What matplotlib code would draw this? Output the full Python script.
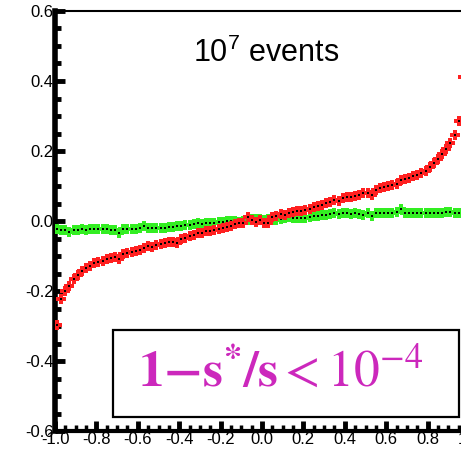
import numpy as np
import matplotlib
matplotlib.use("Agg")
import matplotlib.pyplot as plt
from matplotlib.patches import Rectangle
from matplotlib.ticker import MultipleLocator, FormatStrFormatter

# ---- data ----
x_centers = np.round(np.arange(-0.99, 1.0, 0.02), 2)

red_vals = [
    -0.297, -0.224, -0.200, -0.187, -0.166, -0.155, -0.143, -0.134, -0.128, -0.121,
    -0.118, -0.113, -0.109, -0.106, -0.104, -0.109, -0.094, -0.092, -0.089, -0.086,
    -0.083, -0.077, -0.071, -0.073, -0.069, -0.067, -0.064, -0.061, -0.060, -0.062,
    -0.052, -0.048, -0.044, -0.040, -0.035, -0.033, -0.030, -0.028, -0.026, -0.024,
    -0.020, -0.016, -0.014, -0.010, -0.007, -0.007, 0.012, 0.004, -0.004, 0.003,
    -0.006, -0.005, 0.012, 0.015, 0.019, 0.017, 0.022, 0.026, 0.028, 0.029,
    0.031, 0.035, 0.039, 0.043, 0.047, 0.051, 0.055, 0.059, 0.056, 0.066,
    0.068, 0.069, 0.071, 0.074, 0.079, 0.081, 0.075, 0.089, 0.093, 0.096,
    0.100, 0.104, 0.106, 0.117, 0.119, 0.122, 0.128, 0.131, 0.136, 0.143,
    0.154, 0.166, 0.178, 0.190, 0.207, 0.224, 0.245, 0.285, 0.410, 0.700,
]

green_vals = [
    -0.024, -0.025, -0.027, -0.032, -0.026, -0.025, -0.024, -0.025, -0.024, -0.023,
    -0.024, -0.023, -0.024, -0.025, -0.026, -0.034, -0.024, -0.023, -0.022, -0.022,
    -0.019, -0.015, -0.021, -0.021, -0.020, -0.020, -0.019, -0.018, -0.016, -0.015,
    -0.014, -0.012, -0.011, -0.009, -0.007, -0.008, -0.006, -0.005, -0.005, -0.004,
    -0.002, -0.001, 0.001, -0.001, -0.002, 0.001, 0.004, 0.007, 0.006, 0.005,
    0.004, 0.006, 0.004, 0.003, 0.005, 0.008, 0.010, 0.008, 0.009, 0.008,
    0.009, 0.012, 0.013, 0.015, 0.016, 0.017, 0.019, 0.022, 0.021, 0.022,
    0.022, 0.021, 0.022, 0.020, 0.018, 0.022, 0.015, 0.024, 0.023, 0.024,
    0.023, 0.022, 0.025, 0.033, 0.024, 0.024, 0.023, 0.024, 0.023, 0.022,
    0.023, 0.024, 0.023, 0.024, 0.026, 0.027, 0.024, 0.024, 0.023, 0.022,
]

x_ticks = [-1.0, -0.8, -0.6, -0.4, -0.2, 0.0, 0.2, 0.4, 0.6, 0.8, 1.0]
y_ticks = [-0.6, -0.4, -0.2, 0.0, 0.2, 0.4, 0.6]
title_text = r"$10^7$ events"
box_text = r"$\mathbf{1{-}s^{*}/s} < 10^{-4}$"

assert len(red_vals) == len(x_centers) == len(green_vals)

# ---- figure ----
plt.rcParams['mathtext.fontset'] = 'custom'
plt.rcParams['mathtext.rm'] = 'Liberation Sans'
plt.rcParams['mathtext.it'] = 'Liberation Sans:italic'
plt.rcParams['mathtext.bf'] = 'Liberation Sans:bold'

fig = plt.figure(figsize=(4.61, 4.5), dpi=100)
ax = fig.add_axes([55 / 461, 19 / 450, 414 / 461, 420 / 450])
ax.set_xlim(-1.0, 1.0)
ax.set_ylim(-0.6, 0.6)

green_c = '#33ee22'
red_c = '#ff2020'
ax.plot(x_centers, green_vals, linestyle='none', marker='P', ms=7.5, mew=0,
        color=green_c, zorder=3)
ax.plot(x_centers, green_vals, linestyle='none', marker='s', ms=1.7, mew=0,
        color='black', zorder=4)
ax.plot(x_centers, red_vals, linestyle='none', marker='P', ms=7.5, mew=0,
        color=red_c, zorder=5)
ax.plot(x_centers, red_vals, linestyle='none', marker='s', ms=1.7, mew=0,
        color='black', zorder=6)

# spines
ax.spines['right'].set_visible(False)
ax.spines['top'].set_linewidth(1.5)
ax.spines['left'].set_linewidth(4)
ax.spines['bottom'].set_linewidth(3)

ax.set_xticks(x_ticks)
ax.set_yticks(y_ticks)
ax.xaxis.set_major_formatter(FormatStrFormatter('%.1f'))
ax.yaxis.set_major_formatter(FormatStrFormatter('%.1f'))
ax.xaxis.set_minor_locator(MultipleLocator(0.05))
ax.yaxis.set_minor_locator(MultipleLocator(0.05))
ax.tick_params(which='both', direction='in', top=False, right=False)
ax.tick_params(axis='y', which='major', length=7, width=3.5, pad=1,
               labelsize=12)
ax.tick_params(axis='y', which='minor', length=4, width=3.5)
ax.tick_params(axis='x', which='major', length=7, width=3.5, pad=1,
               labelsize=12)
ax.tick_params(axis='x', which='minor', length=4, width=2.5)
for lab in ax.get_xticklabels() + ax.get_yticklabels():
    lab.set_fontfamily('Liberation Sans')

ax.text(0.51, 0.9, title_text, transform=ax.transAxes, ha='center',
        va='center', fontsize=22, fontfamily='Liberation Sans',
        math_fontfamily='custom', zorder=8)

rect = Rectangle((0.140, 0.0333), 0.836, 0.2072, transform=ax.transAxes,
                 facecolor='white', edgecolor='black', linewidth=1.6,
                 zorder=9)
ax.add_patch(rect)
ax.text(0.546, 0.138, box_text, transform=ax.transAxes, ha='center',
        va='center', fontsize=37, color='#cc28bc', math_fontfamily='stix',
        zorder=10)

fig.savefig('out.png', dpi=100)
